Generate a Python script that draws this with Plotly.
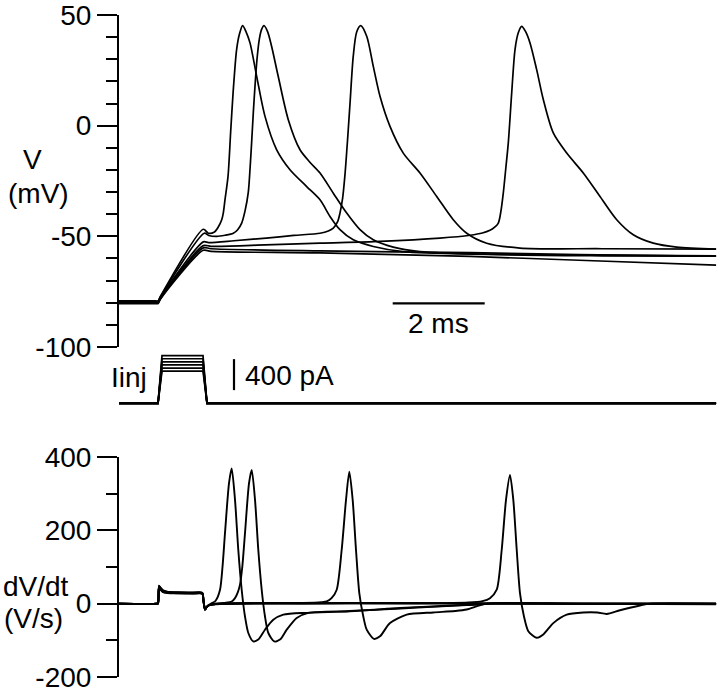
import plotly.graph_objects as go

# ---------------- data (time in ms) ----------------
# Membrane potential traces (mV), 6 current steps
A_t = [0, 0.8, 0.85, 0.9, 1.833, 1.941, 2.065, 2.152, 2.233, 2.267, 2.304, 2.37, 2.427, 2.48, 2.557, 2.62, 2.687, 2.76, 2.848, 2.993, 3.174, 3.428, 3.717, 4.08, 4.37, 4.587, 4.804, 5.093, 5.528, 6.18, 8.0, 10.5, 12.98]
A_v = [-79.2, -79.2, -79.2, -77.2, -46.8, -48.6, -48.2, -46.0, -42.5, -39.5, -33.5, -22.9, -3.0, 14.8, 34.4, 41.5, 45.2, 42.5, 37.4, 22.3, 4.2, -10.9, -19.9, -27.5, -33.5, -41.0, -47.0, -51.6, -54.6, -56.9, -58.0, -58.5, -58.8]

B_t = [0, 0.8, 0.85, 0.9, 1.854, 1.95, 2.124, 2.304, 2.485, 2.58, 2.667, 2.74, 2.811, 2.85, 2.885, 2.92, 2.957, 3.0, 3.05, 3.1, 3.152, 3.23, 3.317, 3.461, 3.68, 3.935, 4.15, 4.37, 4.659, 4.95, 5.239, 5.528, 5.963, 6.543, 8.0, 10.5, 12.98]
B_v = [-79.4, -79.4, -79.4, -77.4, -48.6, -49.6, -50.0, -49.5, -48.6, -47.0, -44.0, -38.5, -30.0, -19.0, -7.0, 6.0, 18.0, 30.0, 39.0, 43.5, 45.2, 42.5, 35.9, 22.3, 2.7, -10.9, -16.5, -21.4, -30.5, -39.5, -47.0, -51.6, -54.9, -56.9, -58.2, -58.8, -59.0]

C_t = [0, 0.8, 0.85, 0.9, 1.833, 1.95, 2.5, 3.2, 3.8, 4.37, 4.55, 4.659, 4.75, 4.804, 4.86, 4.913, 4.97, 5.022, 5.093, 5.167, 5.254, 5.385, 5.528, 5.674, 5.891, 6.18, 6.543, 6.907, 7.267, 7.559, 7.993, 8.717, 10.5, 12.98]
C_v = [-79.6, -79.6, -79.6, -77.6, -52.5, -52.8, -52.0, -50.8, -49.6, -48.6, -47.6, -46.3, -43.5, -39.5, -33.0, -22.0, -6.0, 10.0, 31.5, 42.3, 45.2, 40.4, 26.8, 13.3, -0.3, -12.4, -21.4, -32.0, -42.5, -48.6, -53.1, -55.3, -55.6, -55.8]

D_t = [0, 0.8, 0.85, 0.9, 1.833, 2.0, 3.0, 4.37, 5.674, 6.978, 7.63, 7.9, 8.065, 8.16, 8.246, 8.3, 8.354, 8.41, 8.463, 8.537, 8.609, 8.68, 8.754, 8.84, 8.935, 9.08, 9.224, 9.441, 9.733, 10.093, 10.457, 10.82, 11.18, 11.615, 12.124, 12.98]
D_v = [-79.9, -79.9, -79.9, -77.9, -54.2, -54.5, -54.0, -53.1, -52.3, -50.8, -49.5, -48.5, -47.3, -46.0, -44.0, -39.0, -30.5, -19.0, -7.8, 14.8, 34.4, 42.0, 44.9, 42.5, 37.4, 25.3, 11.8, -3.3, -12.4, -21.4, -32.0, -42.5, -49.3, -53.1, -54.9, -55.8]

E_t = [0, 0.8, 0.85, 0.9, 1.833, 2.0, 4.37, 7.63, 10.0, 12.98]
E_v = [-80.1, -80.1, -80.1, -78.1, -55.2, -55.6, -56.6, -57.4, -58.2, -59.0]

F_t = [0, 0.8, 0.85, 0.9, 1.833, 2.0, 4.37, 7.63, 10.0, 12.98]
F_v = [-80.4, -80.4, -80.4, -78.4, -56.3, -56.8, -57.5, -59.1, -60.8, -63.0]

# Injected current steps (pA)
I_t = [0, 0.848, 0.935, 1.826, 1.913, 12.98]
I_amps = [615, 575, 535, 495, 455, 415]

# dV/dt traces (V/s)
pre_t = [0, 0.82, 0.848, 0.87, 0.9, 0.95, 1.05, 1.3, 1.6, 1.81, 1.835, 1.87, 1.91, 1.96]
A_dt = pre_t + [2.03, 2.1, 2.196, 2.25, 2.304, 2.391, 2.45, 2.522, 2.593, 2.667, 2.739, 2.811, 2.92, 3.028, 3.174, 3.354, 3.572, 4.08, 5.02, 6.11, 6.9, 7.56, 8.1, 10.0, 12.98]
A_dv = [0, 0, 1, 49, 44, 37, 33, 31, 30.5, 30, 10, -16, -9, -3] + [2, 8, 38, 100, 192, 328, 369, 283, 147, 38, -35, -80, -103, -98, -71, -44, -30, -25, -21, -12, -7, -3, 0, 0, 0]

B_dt = pre_t + [2.1, 2.3, 2.45, 2.522, 2.58, 2.63, 2.68, 2.739, 2.826, 2.885, 2.957, 3.028, 3.102, 3.174, 3.246, 3.376, 3.5, 3.646, 3.863, 4.115, 5.02, 6.11, 6.9, 7.56, 8.17, 10.0, 12.98]
B_dv = [0, 0, 1, 48, 43, 36, 32, 30.5, 30, 29.5, 10, -16, -9, -4] + [-1, 2, 6, 15, 30, 52, 100, 192, 328, 365, 283, 147, 38, -35, -80, -103, -98, -71, -39, -25, -20, -13, -8, -4, 0, 0, 0]

C_dt = pre_t + [2.1, 3.0, 4.0, 4.4, 4.515, 4.62, 4.733, 4.841, 4.935, 5.007, 5.08, 5.152, 5.224, 5.311, 5.385, 5.543, 5.674, 5.891, 6.254, 6.833, 7.3, 7.559, 7.993, 10.0, 12.98]
C_dv = [0, 0, 1, 47, 42, 35, 31, 29.5, 29, 28.5, 10, -16, -9, -4] + [0, 1.5, 2, 4, 6, 15, 38, 147, 283, 360, 283, 147, 29, -35, -71, -96, -89, -53, -30, -24, -20, -16, 0, 0, 0]

D_dt = pre_t + [2.1, 4.0, 6.0, 7.0, 7.6, 7.9, 8.065, 8.211, 8.32, 8.413, 8.5, 8.572, 8.646, 8.717, 8.804, 8.898, 9.08, 9.224, 9.441, 9.733, 10.093, 10.4, 10.602, 10.891, 11.326, 11.543, 12.98]
D_dv = [0, 0, 1, 46, 41, 34, 30.5, 29, 28.5, 28, 10, -16, -9, -4] + [0, 0.5, 1, 1.5, 3, 7, 15, 38, 147, 283, 351, 283, 147, 29, -35, -75, -93, -84, -53, -30, -24, -24, -28, -18, -5, 0, 0]

E_dt = pre_t + [2.1, 12.98]
E_dv = [0, 0, 1, 45, 40, 33, 30, 28.5, 28, 27.5, 10, -16, -9, -4] + [-1, -1]
F_dt = pre_t + [2.1, 12.98]
F_dv = [0, 0, 1, 44, 39, 32, 29, 28, 27.5, 27, 10, -16, -9, -4] + [-1.5, -1.5]

# scale bars
time_bar_x = [5.95, 7.95]      # 2 ms
time_bar_v = -80.3
cur_bar_t = 2.5
cur_bar_y = [170, 570]          # 400 pA

V_ticks = [-100, -50, 0, 50]
V_minor = [-90, -80, -70, -60, -40, -30, -20, -10, 10, 20, 30, 40]
D_ticks = [-200, 0, 200, 400]
D_minor = [-100, 100, 300]

# ---------------- figure ----------------
FONT = "Liberation Sans, Arial, Helvetica, sans-serif"
LW = 1.7
fig = go.Figure()

for t, v in [(A_t, A_v), (B_t, B_v), (C_t, C_v), (D_t, D_v), (E_t, E_v), (F_t, F_v)]:
    fig.add_trace(go.Scatter(x=t, y=v, mode="lines", xaxis="x", yaxis="y",
                             line=dict(color="black", width=LW, shape="spline", smoothing=0.8),
                             hoverinfo="skip"))

for a in I_amps:
    fig.add_trace(go.Scatter(x=I_t, y=[0, 0, a, a, 0, 0], mode="lines", xaxis="x", yaxis="y2",
                             line=dict(color="black", width=LW), hoverinfo="skip"))

for t, v in [(A_dt, A_dv), (B_dt, B_dv), (C_dt, C_dv), (D_dt, D_dv), (E_dt, E_dv), (F_dt, F_dv)]:
    fig.add_trace(go.Scatter(x=t, y=v, mode="lines", xaxis="x", yaxis="y3",
                             line=dict(color="black", width=1.9, shape="spline", smoothing=0.7),
                             hoverinfo="skip"))

# scale bars
fig.add_trace(go.Scatter(x=time_bar_x, y=[time_bar_v, time_bar_v], mode="lines", xaxis="x", yaxis="y",
                         line=dict(color="black", width=2.2), hoverinfo="skip"))
fig.add_trace(go.Scatter(x=[cur_bar_t, cur_bar_t], y=cur_bar_y, mode="lines", xaxis="x", yaxis="y2",
                         line=dict(color="black", width=2.2), hoverinfo="skip"))

H = 692.0
def py(px):
    return 1 - px / H

axis_style = dict(showline=True, linecolor="black", linewidth=2, ticks="outside", ticklen=20,
                  tickwidth=2, tickcolor="black", showgrid=False, zeroline=False,
                  tickfont=dict(family=FONT, size=28, color="black"), anchor="x",
                  tickmode="array", automargin=False, ticklabeloverflow="allow")

fig.update_layout(
    width=720, height=692,
    margin=dict(l=119, r=0, t=0, b=0, autoexpand=False),
    paper_bgcolor="white", plot_bgcolor="white",
    showlegend=False,
    xaxis=dict(domain=[0, 1], range=[0, 601 / 46.0], visible=False, automargin=False),
    yaxis=dict(domain=[py(347), py(15)], range=[-100, 50],
               tickvals=V_ticks, ticktext=[str(v) for v in V_ticks],
               minor=dict(tickmode="array", tickvals=V_minor, ticks="outside", ticklen=11,
                          tickwidth=2, tickcolor="black", showgrid=False),
               **axis_style),
    yaxis2=dict(domain=[py(415), py(348)], range=[-151, 713.5], visible=False, anchor="x"),
    yaxis3=dict(domain=[py(677), py(457)], range=[-200, 400],
                tickvals=D_ticks, ticktext=[str(v) for v in D_ticks],
                minor=dict(tickmode="array", tickvals=D_minor, ticks="outside", ticklen=11,
                           tickwidth=2, tickcolor="black", showgrid=False),
                **axis_style),
)

W = 601.0
def pxx(px):
    return (px - 119) / W

ann_font = dict(family=FONT, size=28, color="black")
anns = [
    dict(text="V", x=pxx(32), y=py(159)),
    dict(text="(mV)", x=pxx(38), y=py(193)),
    dict(text="dV/dt", x=pxx(36), y=py(586)),
    dict(text="(V/s)", x=pxx(33), y=py(618)),
]
for a in anns:
    fig.add_annotation(text=a["text"], x=a["x"], y=a["y"], xref="paper", yref="paper",
                       xanchor="center", yanchor="middle", showarrow=False, font=ann_font)
fig.add_annotation(text="Iinj", x=pxx(149), y=py(377), xref="paper", yref="paper",
                   xanchor="right", yanchor="middle", showarrow=False, font=ann_font)
fig.add_annotation(text="400 pA", x=2.696, y=365, xref="x", yref="y2",
                   xanchor="left", yanchor="middle", showarrow=False, font=ann_font)
fig.add_annotation(text="2 ms", x=sum(time_bar_x) / 2, y=-89.5, xref="x", yref="y",
                   xanchor="center", yanchor="middle", showarrow=False, font=ann_font)

fig.write_html("out.html", config={"displayModeBar": False},
               post_script="document.body.style.margin='0px';")
